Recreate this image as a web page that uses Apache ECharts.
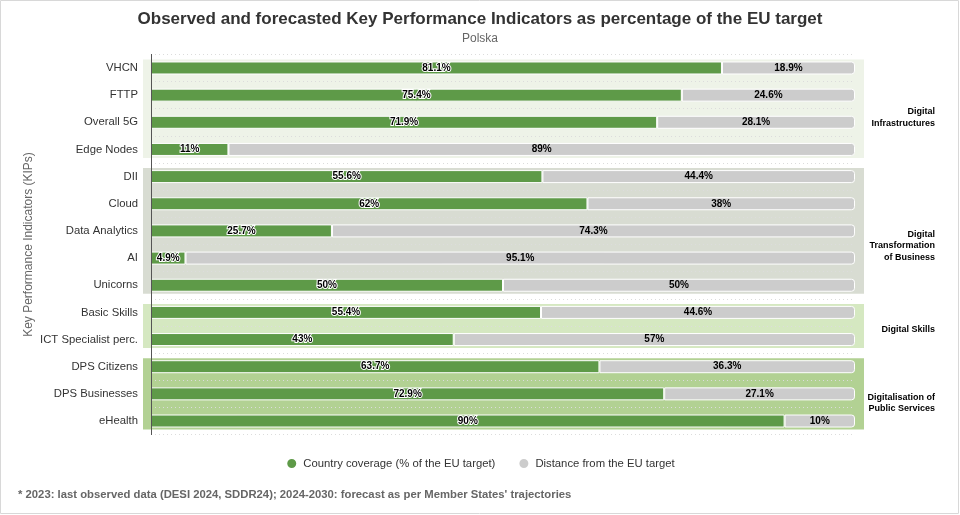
<!DOCTYPE html>
<html>
<head>
<meta charset="utf-8">
<script src="https://cdn.jsdelivr.net/npm/echarts@6/dist/echarts.min.js"></script>
<style>
html,body{margin:0;padding:0;background:#fff;}
#chart{width:960px;height:515px;}
</style>
</head>
<body>
<div id="chart"></div>
<script>
var categories = ['VHCN','FTTP','Overall 5G','Edge Nodes','DII','Cloud','Data Analytics','AI','Unicorns','Basic Skills','ICT Specialist perc.','DPS Citizens','DPS Businesses','eHealth'];
var coverage = [81.1, 75.4, 71.9, 11, 55.6, 62, 25.7, 4.9, 50, 55.4, 43, 63.7, 72.9, 90];
var distance = [18.9, 24.6, 28.1, 89, 44.4, 38, 74.3, 95.1, 50, 44.6, 57, 36.3, 27.1, 10];
var groupNames = ['Digital\nInfrastructures', 'Digital\nTransformation\nof Business', 'Digital Skills', 'Digitalisation of\nPublic Services'];
var groupStart = [0, 4, 9, 11];
var groupEnd = [3, 8, 10, 13];
var groupColors = ['#eef3e8', '#d8dcd2', '#d5e8c1', '#b2d193'];

var FONT = '"Liberation Sans", Arial, sans-serif';
var chart = echarts.init(document.getElementById('chart'));

var bandData = groupStart.map(function (s, i) { return [s, groupEnd[i], i]; });

chart.setOption({
  animation: false,
  textStyle: { fontFamily: FONT },
  graphic: [{
    type: 'rect', shape: { x: 0.5, y: 0.5, width: 958, height: 513 },
    style: { fill: 'none', stroke: '#d8d8d8', lineWidth: 1 }, silent: true
  }, {
    type: 'text', left: 18, top: 489,
    style: { text: "* 2023: last observed data (DESI 2024, SDDR24); 2024-2030: forecast as per Member States' trajectories",
      font: 'bold 11.3px ' + FONT, fill: '#666' }
  }],
  title: {
    text: 'Observed and forecasted Key Performance Indicators as percentage of the EU target',
    subtext: 'Polska',
    left: 'center', top: 6, itemGap: 5,
    textStyle: { fontSize: 17, fontWeight: 'bold', color: '#333', fontFamily: FONT },
    subtextStyle: { fontSize: 12, color: '#666', fontFamily: FONT }
  },
  legend: {
    top: 452, left: 'center', icon: 'circle', itemWidth: 11, itemHeight: 11, itemGap: 22,
    textStyle: { fontSize: 11.3, color: '#333', fontFamily: FONT, padding: [0, 0, 0, 1] },
    data: ['Country coverage (% of the EU target)', 'Distance from the EU target']
  },
  grid: { left: 151, right: 105, top: 54.4, bottom: 80.4, containLabel: false },
  xAxis: {
    type: 'value', min: 0, max: 100, show: false
  },
  yAxis: {
    type: 'category', data: categories, inverse: true, z: 10,
    name: 'Key Performance Indicators (KIPs)', nameLocation: 'middle', nameGap: 116, nameRotate: 90,
    nameMoveOverlap: false,
    nameTextStyle: { fontSize: 12, color: '#666', fontFamily: FONT },
    axisLine: { show: true, lineStyle: { color: '#555', width: 1 } },
    axisTick: { show: false },
    axisLabel: { fontSize: 11.3, color: '#333', margin: 13, fontFamily: FONT },
    splitLine: { show: true, lineStyle: { color: '#dcdcdc', type: [1, 3], width: 1 } }
  },
  series: [{
    type: 'custom', z: 1, silent: true,
    data: bandData,
    encode: { x: 2, y: 0 },
    renderItem: function (params, api) {
      var s = api.value(0), e = api.value(1), gi = api.value(2);
      var p1 = api.coord([0, s]);
      var p2 = api.coord([100, e]);
      var x0 = p1[0] - 8, x1 = p2[0] + 9;
      var y0 = p1[1] - 8.5, y1 = p2[1] + 8.5;
      return {
        type: 'group',
        children: [{
          type: 'rect',
          shape: { x: x0, y: y0, width: x1 - x0, height: y1 - y0 },
          style: { fill: groupColors[gi] }
        }, {
          type: 'text',
          style: {
            x: 935, y: (y0 + y1) / 2 - 2.5,
            text: groupNames[gi], align: 'right', verticalAlign: 'top',
            font: 'bold 9px ' + FONT, fill: '#000', lineHeight: 11.5
          }
        }]
      };
    }
  }, {
    name: 'Country coverage (% of the EU target)',
    type: 'bar', stack: 'kpi', barWidth: 13, data: coverage,
    itemStyle: { color: '#5e9a48', borderColor: '#fff', borderWidth: 1 },
    label: {
      show: true, position: 'inside', formatter: '{c}%',
      fontSize: 10, fontWeight: 'bold', color: '#000',
      textBorderColor: '#fff', textBorderWidth: 2, fontFamily: FONT
    }
  }, {
    name: 'Distance from the EU target',
    type: 'bar', stack: 'kpi', barWidth: 13, data: distance,
    itemStyle: { color: '#cccccc', borderColor: '#fff', borderWidth: 1, borderRadius: [0, 3, 3, 0] },
    label: {
      show: true, position: 'inside', formatter: '{c}%',
      fontSize: 10, fontWeight: 'bold', color: '#000', fontFamily: FONT
    }
  }],
  color: ['#5e9a48', '#cccccc']
});
</script>
</body>
</html>
